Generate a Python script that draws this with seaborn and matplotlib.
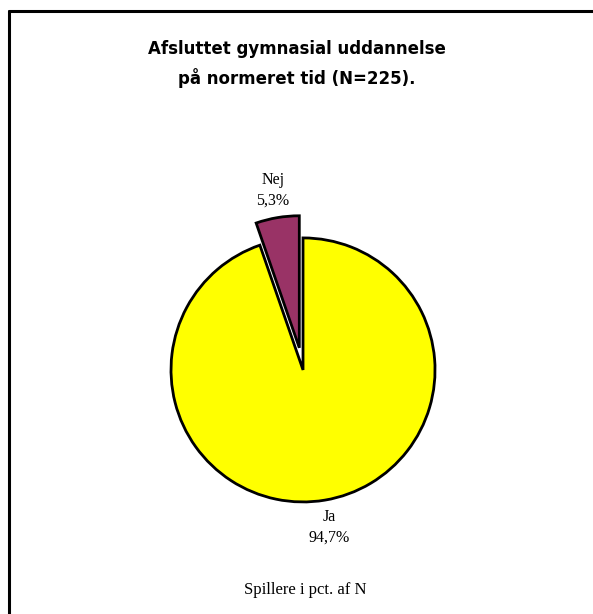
import matplotlib
matplotlib.use("Agg")
import matplotlib.pyplot as plt
from matplotlib.lines import Line2D
import seaborn as sns

# data
categories = ['Nej', 'Ja']
shares = [5.3, 94.7]
slice_colors = ['#993366', '#FFFF00']
title_lines = ['Afsluttet gymnasial uddannelse', 'på normeret tid (N=225).']
footer = 'Spillere i pct. af N'

sns.set_theme(style='white')
plt.rcParams['font.family'] = ['DejaVu Sans']
plt.rcParams['text.color'] = 'black'

fig = plt.figure(figsize=(5.93, 6.14), dpi=100)
fig.patch.set_facecolor('white')

# pie axes, centred on the pie
ax = fig.add_axes([0.177, 0.075, 0.668, 0.645])
labels = ['%s\n%s%%' % (c, ('%.1f' % v).replace('.', ',')) for c, v in zip(categories, shares)]
ax.pie(shares, labels=labels, colors=slice_colors, startangle=90, counterclock=True,
       explode=[0.17, 0], labeldistance=1.21,
       wedgeprops=dict(edgecolor='black', linewidth=2),
       textprops=dict(ha='center', va='center', family='Liberation Serif', size=11.5,
                      color='black', linespacing=1.35))
ax.set_xlim(-1.5, 1.5)
ax.set_ylim(-1.5, 1.5)
ax.set_aspect('equal')
ax.axis('off')

# title and footer
fig.text(0.5, 1 - 64 / 614, '\n'.join(title_lines), ha='center', va='center',
         fontsize=12, fontweight='bold', linespacing=1.6, color='black')
fig.text(0.515, 1 - 590 / 614, footer, ha='center', va='center',
         family='Liberation Serif', fontsize=12, color='black')

# frame (only top and left edges visible)
fig.add_artist(Line2D([9 / 593, 1], [1 - 11 / 614, 1 - 11 / 614], color='black', lw=2.2,
                      transform=fig.transFigure))
fig.add_artist(Line2D([9 / 593, 9 / 593], [0, 1 - 11 / 614], color='black', lw=2.2,
                      transform=fig.transFigure))

fig.savefig('out.png', dpi=100)
